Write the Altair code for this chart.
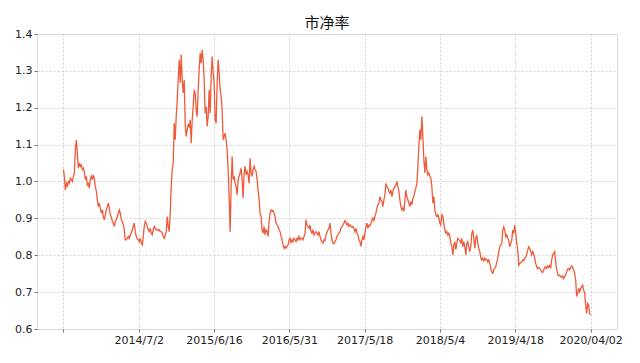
import altair as alt
import pandas as pd

# 市净率 readings (one value per plotted step), split into periods
pb_2013_2014 = [
    1.032, 1.014, 0.977, 0.995, 0.988, 1.000, 0.995, 1.009, 1.005, 1.000,
    1.014, 1.023, 1.086, 1.113, 1.077, 1.036, 1.050, 1.041, 1.045, 1.032,
    1.036, 1.027, 1.005, 1.014, 0.991, 0.995, 0.982, 1.005, 1.014, 1.005,
    1.018, 1.009, 0.986, 0.973, 0.950, 0.932, 0.941, 0.928, 0.914, 0.923,
    0.905, 0.896, 0.910, 0.923, 0.932, 0.941, 0.928, 0.910, 0.905, 0.892,
    0.887, 0.878, 0.892, 0.896, 0.905, 0.914, 0.923, 0.914, 0.896, 0.892,
    0.882, 0.869, 0.842, 0.842, 0.846, 0.851, 0.846, 0.855, 0.860, 0.869,
    0.878, 0.887, 0.864, 0.851, 0.846, 0.842, 0.837, 0.846, 0.833, 0.828,
    0.851, 0.878, 0.892, 0.887, 0.878, 0.869, 0.864, 0.873, 0.860, 0.855,
    0.869, 0.878, 0.873, 0.869, 0.871, 0.867, 0.869, 0.864, 0.864, 0.860,
    0.851, 0.846, 0.855, 0.864, 0.905, 0.878, 0.864, 0.914, 0.986, 1.032,
    1.050, 1.158, 1.113, 1.176, 1.221, 1.276, 1.330, 1.267, 1.344, 1.276,
    1.240, 1.276, 1.158, 1.122, 1.140, 1.154, 1.149,
]
pb_2015_2016 = [
    1.167, 1.104, 1.167, 1.203, 1.249, 1.240, 1.194, 1.176, 1.249, 1.303,
    1.348, 1.321, 1.357, 1.330, 1.276, 1.185, 1.203, 1.149, 1.176, 1.249,
    1.185, 1.285, 1.339, 1.294, 1.267, 1.167, 1.158, 1.267, 1.330, 1.294,
    1.249, 1.231, 1.194, 1.113, 1.122, 1.131, 1.113, 1.086, 1.032, 0.959,
    0.864, 0.986, 1.068, 1.005, 1.014, 0.995, 0.986, 0.964, 1.005, 1.014,
    1.023, 1.036, 1.005, 0.955, 1.023, 1.041, 1.018, 1.027, 1.018, 0.995,
    1.063, 1.023, 1.014, 1.032, 1.041, 1.032, 1.027, 1.005, 0.977, 0.950,
    0.914, 0.905, 0.869, 0.860, 0.878, 0.855, 0.869, 0.864, 0.851, 0.892,
    0.914, 0.923, 0.919, 0.921, 0.914, 0.905, 0.887, 0.882, 0.878, 0.869,
    0.864, 0.851, 0.842, 0.828, 0.819, 0.824, 0.819, 0.824, 0.828, 0.842,
    0.846, 0.833, 0.842, 0.837, 0.846, 0.842, 0.837, 0.846, 0.842, 0.851,
    0.842, 0.846, 0.846, 0.842, 0.851, 0.860, 0.896, 0.882, 0.878, 0.873,
    0.882, 0.864, 0.860, 0.869, 0.855, 0.860, 0.864, 0.860, 0.855, 0.864,
    0.851, 0.842, 0.837, 0.833, 0.842, 0.840, 0.855, 0.862, 0.869, 0.873,
]
pb_2017_2018 = [
    0.887, 0.860, 0.842, 0.833, 0.831, 0.837, 0.842, 0.851, 0.855, 0.860,
    0.864, 0.873, 0.878, 0.882, 0.887, 0.894, 0.889, 0.882, 0.887, 0.878,
    0.882, 0.880, 0.876, 0.878, 0.873, 0.864, 0.873, 0.860, 0.855, 0.842,
    0.837, 0.824, 0.842, 0.851, 0.842, 0.860, 0.878, 0.887, 0.873, 0.882,
    0.880, 0.887, 0.896, 0.901, 0.894, 0.905, 0.914, 0.928, 0.937, 0.941,
    0.959, 0.950, 0.946, 0.932, 0.950, 0.964, 0.995, 0.986, 0.982, 0.973,
    0.968, 0.977, 0.959, 0.973, 0.982, 0.985, 0.991, 1.000, 0.986, 0.973,
    0.950, 0.932, 0.923, 0.928, 0.919, 0.950, 0.977, 0.959, 0.950, 0.941,
    0.932, 0.946, 0.937, 0.955, 0.959, 0.973, 0.982, 0.995, 1.041, 1.095,
    1.140, 1.113, 1.176, 1.122, 1.059, 1.023, 1.068, 1.032, 1.018, 1.023,
    1.014, 1.009, 0.986, 0.941, 0.959, 0.923, 0.910, 0.905, 0.910, 0.901,
    0.887, 0.882, 0.910, 0.905, 0.887, 0.869, 0.860, 0.864, 0.855, 0.860,
    0.851, 0.833, 0.824, 0.801, 0.828, 0.837, 0.815, 0.833, 0.846, 0.842,
]
pb_2019_2020 = [
    0.841, 0.832, 0.846, 0.823, 0.837, 0.823, 0.801, 0.832, 0.837, 0.823,
    0.810, 0.823, 0.859, 0.868, 0.846, 0.819, 0.846, 0.855, 0.832, 0.819,
    0.810, 0.794, 0.787, 0.792, 0.785, 0.792, 0.787, 0.789, 0.782, 0.787,
    0.778, 0.764, 0.755, 0.751, 0.760, 0.764, 0.769, 0.782, 0.792, 0.810,
    0.823, 0.828, 0.832, 0.868, 0.877, 0.868, 0.850, 0.855, 0.846, 0.841,
    0.823, 0.832, 0.841, 0.868, 0.859, 0.882, 0.859, 0.832, 0.814, 0.773,
    0.778, 0.780, 0.782, 0.787, 0.785, 0.792, 0.794, 0.803, 0.814, 0.823,
    0.819, 0.810, 0.801, 0.810, 0.803, 0.792, 0.778, 0.769, 0.764, 0.767,
    0.764, 0.760, 0.755, 0.753, 0.760, 0.767, 0.769, 0.764, 0.771, 0.767,
    0.773, 0.767, 0.787, 0.801, 0.805, 0.810, 0.782, 0.760, 0.749, 0.744,
    0.746, 0.742, 0.740, 0.744, 0.737, 0.742, 0.746, 0.755, 0.762, 0.764,
    0.760, 0.767, 0.771, 0.767, 0.760, 0.751, 0.733, 0.688, 0.697, 0.710,
    0.701, 0.710, 0.715, 0.719, 0.706, 0.697, 0.665, 0.642, 0.669, 0.665,
    0.642, 0.638,
]

tick_labels = ["", "2014/7/2", "2015/6/16", "2016/5/31", "2017/5/18",
               "2018/5/4", "2019/4/18", "2020/04/02"]
y_ticks = [0.6, 0.7, 0.8, 0.9, 1.0, 1.1, 1.2, 1.3, 1.4]

values = pb_2013_2014 + pb_2015_2016 + pb_2017_2018 + pb_2019_2020
df = pd.DataFrame({"idx": list(range(len(values))), "pb": values})

n_last = len(values) - 1
step = n_last / (len(tick_labels) - 1)
tick_vals = [i * step for i in range(len(tick_labels))]
margin = n_last * 0.05
label_arr = "[" + ",".join("'" + t + "'" for t in tick_labels) + "]"
label_expr = f"{label_arr}[round(datum.value / {step})]"

chart = (
    alt.Chart(df, title=alt.TitleParams(
        "市净率", font="Noto Sans CJK SC", fontSize=15, fontWeight="normal",
        color="#111", anchor="middle", offset=-3))
    .mark_line(color="#EE5B3B", strokeWidth=1.3, clip=True)
    .encode(
        x=alt.X("idx:Q", scale=alt.Scale(domain=[-margin, n_last + margin], nice=False, zero=False),
                axis=alt.Axis(values=tick_vals, labelExpr=label_expr, title=None,
                              grid=True, gridDash=[2, 2], gridColor="#d2d2d2",
                              domain=False, tickColor="#777", tickSize=3,
                              labelPadding=2, labelFontSize=11, labelColor="#222",
                              labelFont="DejaVu Sans", labelOverlap=False)),
        y=alt.Y("pb:Q", scale=alt.Scale(domain=[0.6, 1.4], nice=False, zero=False),
                axis=alt.Axis(values=y_ticks, format=".1f", title=None,
                              grid=True, gridDash=[2, 2], gridColor="#d2d2d2",
                              domain=False, tickColor="#777", tickSize=3,
                              labelPadding=2, labelFontSize=11, labelColor="#222",
                              labelFont="DejaVu Sans")),
    )
    .properties(width=580, height=295,
                autosize=alt.AutoSizeParams(type="none"),
                padding={"left": 37, "top": 34, "right": 23, "bottom": 34})
    .configure_view(stroke="#888", strokeWidth=1)
    .configure(background="white")
)

chart.save("out.html", embed_options={"renderer": "svg", "actions": False})
